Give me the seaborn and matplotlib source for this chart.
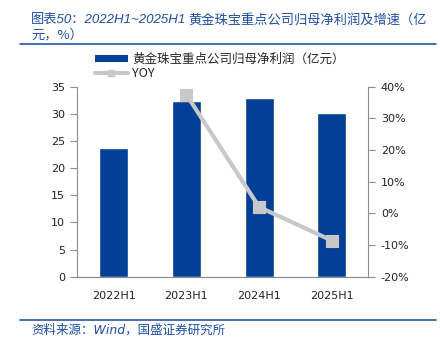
import matplotlib
matplotlib.use("Agg")
import matplotlib.pyplot as plt
import seaborn as sns
import numpy as np
import pandas as pd
from matplotlib.patches import Patch
from matplotlib.lines import Line2D
from matplotlib.ticker import FixedLocator, FuncFormatter

categories = ["2022H1", "2023H1", "2024H1", "2025H1"]
profit = [23.7, 32.3, 32.9, 30.1]
yoy = [np.nan, 37.5, 2.0, -8.6]
bar_label = "黄金珠宝重点公司归母净利润（亿元）"
line_label = "YOY"
title_prefix = "图表50：2022H1~2025H1"
title_rest = "黄金珠宝重点公司归母净利润及增速（亿"
title_line2 = "元，%）"
source_text = "资料来源：Wind，国盛证券研究所"

sns.set_theme(style="white")
plt.rcParams['font.family'] = ['DejaVu Sans', 'Noto Sans CJK SC']

BAR_C = "#023F96"
LINE_C = "#C8C8C8"
BLUE_T = "#1F4FA0"
SPINE_C = "#8C8C8C"

fig = plt.figure(figsize=(4.4, 3.47), dpi=100)
ax = fig.add_axes([0.1757, 0.2026, 0.837 - 0.1757, 0.750 - 0.2026])

df = pd.DataFrame({"cat": categories, "profit": profit, "yoy": yoy})
sns.barplot(data=df, x="cat", y="profit", order=categories, color=BAR_C,
            saturation=1, width=0.4, ax=ax)
ax2 = ax.twinx()
sns.pointplot(data=df, x="cat", y="yoy", order=categories, color=LINE_C,
              markers="s", linestyles="-", markersize=6.5, linewidth=3, ax=ax2)

for a in (ax, ax2):
    a.set_xlim(-0.5, 3.5)
    a.set_xlabel("")
    a.set_ylabel("")
ax.set_ylim(0, 35)
ax.set_yticks(np.arange(0, 36, 5))
ax2.set_ylim(-20, 40)
ax2.set_yticks(np.arange(-20, 41, 10))
ax2.yaxis.set_major_formatter(FuncFormatter(lambda v, p: f"{v:.0f}%"))

ax.set_xticks(range(len(categories)))
ax.set_xticklabels(categories)
ax.xaxis.set_minor_locator(FixedLocator([0.5, 1.5, 2.5]))
ax.tick_params(axis="x", which="major", length=0, pad=10, labelsize=8, colors="#222222")
ax.tick_params(axis="x", which="minor", length=5, direction="in", color=SPINE_C, width=0.8)
ax.tick_params(axis="y", which="major", length=5, direction="out", color=SPINE_C,
               width=0.8, labelsize=8, pad=4, left=True)
ax2.tick_params(axis="y", which="major", length=5, direction="out", color=SPINE_C,
                width=0.8, labelsize=8, pad=4, right=True)
for lab in ax.get_yticklabels() + ax2.get_yticklabels():
    lab.set_color("#222222")
ax2.tick_params(axis="x", bottom=False, labelbottom=False)

for a in (ax, ax2):
    a.spines["top"].set_visible(False)
    for s in ("left", "right", "bottom"):
        a.spines[s].set_color(SPINE_C)
        a.spines[s].set_linewidth(0.8)
ax.spines["right"].set_visible(False)
ax2.spines["left"].set_visible(False)
ax.grid(False)
ax2.grid(False)

handles = [Patch(facecolor=BAR_C, edgecolor="none"),
           Line2D([0], [0], color=LINE_C, lw=3, marker="s", markersize=5)]
leg = fig.legend(handles, [bar_label, line_label], loc="upper left",
                 bbox_to_anchor=(95 / 440, 1 - 53 / 347), frameon=False, fontsize=9,
                 handlelength=2.6, handleheight=0.55, handletextpad=0.35,
                 labelspacing=0.1, borderaxespad=0, borderpad=0)
for t in leg.get_texts():
    t.set_family(['Noto Sans CJK SC', 'DejaVu Sans'])

fig.text(31 / 440, 1 - 20 / 347, title_prefix, fontsize=9.5, color=BLUE_T,
         style="italic", va="center", ha="left",
         family=['Liberation Sans', 'Noto Sans CJK SC'])
fig.text(188 / 440, 1 - 20 / 347, title_rest, fontsize=9.5, color=BLUE_T,
         style="italic", va="center", ha="left",
         family=['Noto Sans CJK SC', 'DejaVu Sans'])
fig.text(31 / 440, 1 - 35 / 347, title_line2, fontsize=9.5, color=BLUE_T,
         style="italic", va="center", ha="left",
         family=['Noto Sans CJK SC', 'DejaVu Sans'])
fig.add_artist(Line2D([20 / 440, 436 / 440], [1 - 43.5 / 347, 1 - 43.5 / 347],
                      color="#2456A6", lw=1.2, transform=fig.transFigure))
fig.add_artist(Line2D([20 / 440, 436 / 440], [1 - 320 / 347, 1 - 320 / 347],
                      color="#2456A6", lw=1.2, transform=fig.transFigure))
fig.text(31 / 440, 1 - 330 / 347, source_text, fontsize=9, color=BLUE_T,
         style="italic", va="center", ha="left",
         family=['DejaVu Sans', 'Noto Sans CJK SC'])

fig.savefig("out.png", dpi=100)
